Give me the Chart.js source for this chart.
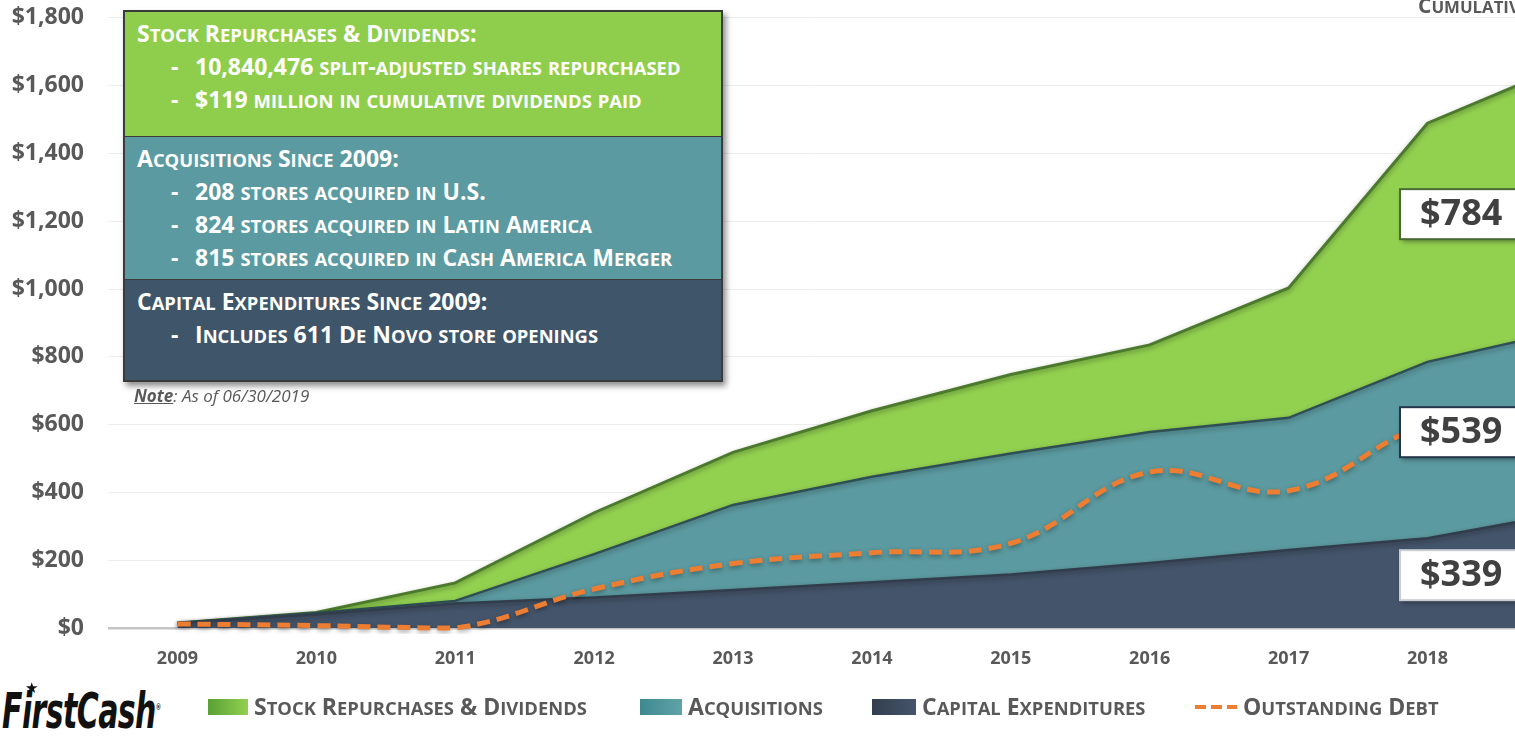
<!DOCTYPE html>
<html>
<head>
<meta charset="utf-8">
<script src="https://cdn.jsdelivr.net/npm/chart.js@4/dist/chart.umd.min.js"></script>
<style>
  body { margin: 0; width: 1515px; height: 736px; overflow: hidden; background: #fff; font-family: 'Open Sans', sans-serif; position: relative; }
  #wrap { position: absolute; left: 0; top: 0; width: 1515px; height: 680px; }
  .sc { font-weight: 700; white-space: nowrap; }
  .sc .min { font-size: 0.8em; }
  #infoBox { position: absolute; left: 123px; top: 10px; width: 596px; border: 2px solid #3b3b3b; box-shadow: 3px 4px 6px rgba(0,0,0,0.45); color: #fff; font-size: 23px; }
  #infoBox .sec { padding: 5px 0 0 12px; box-sizing: border-box; }
  #infoBox .sec > div { height: 33px; line-height: 33px; }
  #infoBox .sec div.item { padding-left: 34px; }
  #infoBox .sec div.item span.d { display: inline-block; width: 24px; }
  #note { position: absolute; left: 134px; top: 384px; font-size: 17px; font-style: italic; color: #595959; }
  #note b { text-decoration: underline; }
  #cumul { position: absolute; left: 1418px; top: -9px; font-size: 21px; color: #595959; }
  #legend { position: absolute; top: 691px; left: 0; width: 1515px; height: 30px; color: #595959; font-size: 23px; }
  #legend .it { position: absolute; top: 0; height: 30px; line-height: 30px; white-space: nowrap; }
  #legend .sw { display: inline-block; width: 42px; height: 16px; vertical-align: middle; margin-right: 6px; position: relative; top: -2px; }
  #logo { position: absolute; left: 2px; top: 682px; font: italic bold 50px 'DejaVu Sans', sans-serif; color: #111; transform: scaleX(0.6); transform-origin: left top; letter-spacing: -1px; white-space: nowrap; }
  #estrella { position: absolute; left: 25px; top: 679px; font: 15px 'DejaVu Sans', sans-serif; color: #111; }
</style>
</head>
<body>
<div id="wrap"><canvas id="chartAreas" width="1515" height="680"></canvas></div>

<div id="infoBox" class="sc">
  <div class="sec" style="background:#8fce4c; height:124px;">
    <div>Stock Repurchases &amp; Dividends:</div>
    <div class="item"><span class="d">-</span>10,840,476 split-adjusted shares repurchased</div>
    <div class="item"><span class="d">-</span>$119 million in cumulative dividends paid</div>
  </div>
  <div class="sec" style="background:#5b9aa0; height:143px; border-top:1px solid #3b3b3b;">
    <div>Acquisitions Since 2009:</div>
    <div class="item"><span class="d">-</span>208 stores acquired in U.S.</div>
    <div class="item"><span class="d">-</span>824 stores acquired in Latin America</div>
    <div class="item"><span class="d">-</span>815 stores acquired in Cash America Merger</div>
  </div>
  <div class="sec" style="background:#3f5569; height:101px; border-top:1px solid #3b3b3b;">
    <div>Capital Expenditures Since 2009:</div>
    <div class="item"><span class="d">-</span>Includes 611 De Novo store openings</div>
  </div>
</div>
<div id="note"><b>Note</b>: As of 06/30/2019</div>
<div id="cumul" class="sc">Cumulative</div>

<div id="logo">FirstCash<sup style="font-size:9px;font-style:normal;">®</sup></div>
<div id="estrella">★</div>
<div id="legend" class="sc">
  <div class="it" style="left:208px;"><span class="sw" style="width:40px;background:linear-gradient(to right,#5aa035,#92d050);"></span><span class="txt">Stock Repurchases &amp; Dividends</span></div>
  <div class="it" style="left:640px;"><span class="sw" style="background:linear-gradient(to right,#3f8890,#5fa3a8);"></span><span class="txt">Acquisitions</span></div>
  <div class="it" style="left:872px;"><span class="sw" style="width:44px;background:linear-gradient(to right,#333f4f,#44546a);"></span><span class="txt">Capital Expenditures</span></div>
  <div class="it" style="left:1195px;"><span class="sw" style="height:4px;background:repeating-linear-gradient(to right,#ed7d31 0 11px,transparent 11px 16px);"></span><span class="txt">Outstanding Debt</span></div>
</div>

<script>
// Years on the x axis (last point = mid-2019, partly beyond the visible range)
const anios = [2009, 2010, 2011, 2012, 2013, 2014, 2015, 2016, 2017, 2018, 2019];
const etiquetasAnio = [2009, 2010, 2011, 2012, 2013, 2014, 2015, 2016, 2017, 2018];

// Cumulative amounts ($ millions)
const capex = [15, 40, 72, 90, 112, 135, 158, 192, 230, 265, 339];
const adquisiciones = [0, 4, 8, 128, 251, 311, 357, 386, 390, 520, 539];
const recompras = [0, 2, 53, 122, 155, 195, 233, 257, 383, 704, 784];
const deuda = [12, 7, 0, 115, 190, 222, 250, 460, 405, 600, 650];

const ticksY = [0, 200, 400, 600, 800, 1000, 1200, 1400, 1600, 1800];

const X_MIN = 2008.5;
const X_MAX = 2018.63;

// Small caps by hand: lowercase runs become smaller uppercase
function versalitas(el) {
    const walker = document.createTreeWalker(el, NodeFilter.SHOW_TEXT);
    const nodos = [];
    while (walker.nextNode()) nodos.push(walker.currentNode);
    nodos.forEach(n => {
        const frag = document.createDocumentFragment();
        n.textContent.split(/([a-z]+)/).forEach(parte => {
            if (!parte) return;
            if (/^[a-z]+$/.test(parte)) {
                const s = document.createElement('span');
                s.className = 'min';
                s.textContent = parte.toUpperCase();
                frag.appendChild(s);
            } else {
                frag.appendChild(document.createTextNode(parte));
            }
        });
        n.parentNode.replaceChild(frag, n);
    });
}
document.querySelectorAll('.sc').forEach(versalitas);

const puntos = (valores) => anios.map((a, i) => ({ x: a, y: valores[i] }));

// Soft shadow under each series outline
const sombraPlugin = {
    id: 'sombra',
    beforeDatasetDraw(chart) {
        const ctx = chart.ctx;
        ctx.save();
        ctx.shadowColor = 'rgba(0,0,0,0.35)';
        ctx.shadowBlur = 5;
        ctx.shadowOffsetY = 2;
    },
    afterDatasetDraw(chart) {
        chart.ctx.restore();
    }
};

// Value boxes at the right edge, centred in each band
const etiquetasPlugin = {
    id: 'etiquetasValor',
    afterDatasetsDraw(chart) {
        const ctx = chart.ctx;
        const area = chart.chartArea;
        const y = chart.scales.y;
        const i = anios.indexOf(2018);
        const f = X_MAX - anios[i];
        const enBorde = (arr) => arr[i] + (arr[i + 1] - arr[i]) * f;

        const c = enBorde(capex);
        const a = enBorde(adquisiciones);
        const r = enBorde(recompras);
        const bandas = [
            { valor: recompras[recompras.length - 1], centro: c + a + r / 2, borde: '#4a6b35' },
            { valor: adquisiciones[adquisiciones.length - 1], centro: c + a / 2, borde: '#26364a' },
            { valor: capex[capex.length - 1], centro: c / 2, borde: '#c9ced4' }
        ];

        bandas.forEach(b => {
            const cy = y.getPixelForValue(b.centro);
            const x0 = 1400, h = 50;
            ctx.save();
            ctx.shadowColor = 'rgba(0,0,0,0.4)';
            ctx.shadowBlur = 5;
            ctx.shadowOffsetX = 2;
            ctx.shadowOffsetY = 3;
            ctx.fillStyle = '#ffffff';
            ctx.fillRect(x0, cy - h / 2, area.right - x0 + 20, h);
            ctx.restore();
            ctx.strokeStyle = b.borde;
            ctx.lineWidth = 2;
            ctx.strokeRect(x0, cy - h / 2, area.right - x0 + 20, h);
            ctx.fillStyle = '#404040';
            ctx.font = 'bold 36px "Open Sans"';
            ctx.textBaseline = 'middle';
            ctx.textAlign = 'left';
            ctx.fillText('$' + b.valor, 1420, cy + 1);
        });
    }
};

const chart = new Chart(document.getElementById('chartAreas'), {
    type: 'line',
    data: {
        datasets: [
            {
                label: 'Capital Expenditures',
                data: puntos(capex),
                stack: 'areas',
                backgroundColor: '#44546a',
                borderColor: '#323d4c',
                borderWidth: 2.5,
                fill: 'origin',
                pointRadius: 0,
                tension: 0
            },
            {
                label: 'Acquisitions',
                data: puntos(adquisiciones),
                stack: 'areas',
                backgroundColor: '#5b9aa0',
                borderColor: '#2f4f55',
                borderWidth: 2.5,
                fill: '-1',
                pointRadius: 0,
                tension: 0
            },
            {
                label: 'Stock Repurchases & Dividends',
                data: puntos(recompras),
                stack: 'areas',
                backgroundColor: '#92d050',
                borderColor: '#4b7a2c',
                borderWidth: 3,
                fill: '-1',
                pointRadius: 0,
                tension: 0
            },
            {
                label: 'Outstanding Debt',
                data: puntos(deuda),
                stack: 'deuda',
                order: -1,
                borderColor: '#ed7d31',
                borderWidth: 5,
                borderDash: [13, 7],
                fill: false,
                pointRadius: 0,
                tension: 0.4,
                clip: { left: 0, top: 0, right: 0, bottom: 6 }
            }
        ]
    },
    options: {
        responsive: false,
        animation: false,
        events: [],
        layout: { padding: { top: 0, right: 0, left: 0, bottom: 0 } },
        plugins: {
            legend: { display: false },
            tooltip: { enabled: false }
        },
        scales: {
            x: {
                type: 'linear',
                min: X_MIN,
                max: X_MAX,
                afterBuildTicks: (s) => { s.ticks = etiquetasAnio.map(v => ({ value: v })); },
                afterFit: (s) => { s.height = 52; },
                ticks: {
                    callback: (v) => String(v),
                    font: { family: 'Open Sans', size: 18, weight: 'bold' },
                    color: '#595959',
                    padding: 20,
                    maxRotation: 0,
                    autoSkip: false
                },
                grid: { display: false, drawTicks: false },
                border: { display: false }
            },
            y: {
                stacked: true,
                min: 0,
                max: 1800,
                afterBuildTicks: (s) => { s.ticks = ticksY.map(v => ({ value: v })); },
                afterFit: (s) => { s.width = 108; },
                ticks: {
                    callback: (v) => '$' + v.toLocaleString('en-US'),
                    font: { family: 'Open Sans', size: 23, weight: 'bold' },
                    color: '#595959',
                    padding: 4
                },
                grid: {
                    drawTicks: true,
                    tickLength: 20,
                    tickColor: 'rgba(0,0,0,0)',
                    color: (c) => c.tick && c.tick.value === 0 ? '#c4c4c4' : '#ededed',
                    lineWidth: (c) => c.tick && c.tick.value === 0 ? 2.5 : 1
                },
                border: { display: false }
            }
        }
    },
    plugins: [sombraPlugin, etiquetasPlugin]
});
</script>
</body>
</html>
